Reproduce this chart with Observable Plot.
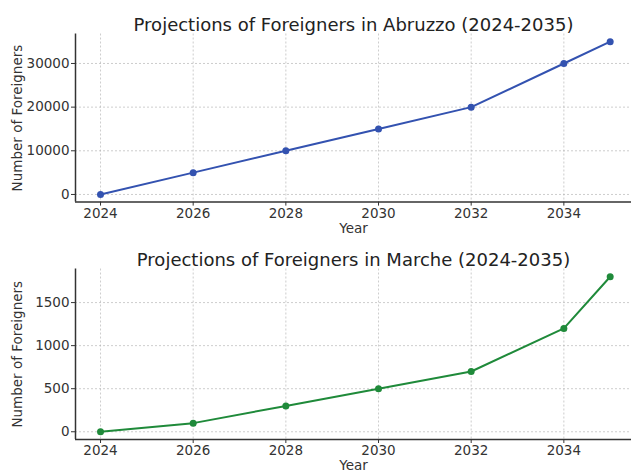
<!DOCTYPE html>
<html>
<head>
<meta charset="utf-8">
<script src="https://cdn.jsdelivr.net/npm/d3@7"></script>
<script src="https://cdn.jsdelivr.net/npm/@observablehq/plot@0.6"></script>
<style>
  html, body { margin: 0; padding: 0; background: #fff; }
  #wrap { width: 631px; height: 471px; overflow: hidden; }
  svg { display: block; font-family: "DejaVu Sans", sans-serif; }
</style>
</head>
<body>
<div id="wrap"></div>
<script>
const years = [2024, 2026, 2028, 2030, 2032, 2034, 2035];
const abruzzo = [0, 5000, 10000, 15000, 20000, 30000, 35000];
const marche = [0, 100, 300, 500, 700, 1200, 1800];
const xTicks = [2024, 2026, 2028, 2030, 2032, 2034];
const yTicksTop = [0, 10000, 20000, 30000];
const yTicksBottom = [0, 500, 1000, 1500];
const titles = ["Projections of Foreigners in Abruzzo (2024-2035)", "Projections of Foreigners in Marche (2024-2035)"];

const xDomain = [2023.46, 2035.46];

function panel(values, yDomain, yTicks, color, title, height, mTop, mBottom, yearDy) {
  const data = years.map((y, i) => ({year: y, value: values[i]}));
  return Plot.plot({
    width: 631,
    height,
    marginLeft: 75,
    marginRight: 0,
    marginTop: mTop,
    marginBottom: mBottom,
    style: {fontFamily: "DejaVu Sans, sans-serif", fontSize: "13.5px", color: "#333", background: "white"},
    x: {domain: xDomain, label: null},
    y: {domain: yDomain, label: null},
    marks: [
      Plot.gridX(xTicks, {stroke: "#b0b0b0", strokeOpacity: 0.8, strokeDasharray: "2,2", strokeWidth: 0.8}),
      Plot.gridY(yTicks, {stroke: "#b0b0b0", strokeOpacity: 0.8, strokeDasharray: "2,2", strokeWidth: 0.8}),
      Plot.ruleY([yDomain[0]], {stroke: "#333", strokeWidth: 1.5}),
      Plot.ruleX([xDomain[0]], {stroke: "#333", strokeWidth: 1.5}),
      Plot.axisX(xTicks, {tickSize: 4, tickPadding: 2, tickFormat: d => String(d), label: null, fontSize: 13.5, fill: "#333"}),
      Plot.axisY(yTicks, {tickSize: 4, tickPadding: 2, tickFormat: d => String(d), label: null, fontSize: 13.5, fill: "#333"}),
      Plot.line(data, {x: "year", y: "value", stroke: color, strokeWidth: 2}),
      Plot.dot(data, {x: "year", y: "value", fill: color, r: 3.5}),
      Plot.text([title], {frameAnchor: "top", dy: -16, fontSize: 18, fill: "#222"}),
      Plot.text(["Year"], {frameAnchor: "bottom", dy: yearDy, fontSize: 13.5, fill: "#333"}),
      Plot.text(["Number of Foreigners"], {frameAnchor: "left", dx: -58, rotate: -90, textAnchor: "middle", fontSize: 13.5, fill: "#333"})
    ]
  });
}

const wrap = document.getElementById("wrap");
wrap.appendChild(panel(abruzzo, [-1750, 36750], yTicksTop, "#3352b0", titles[0], 235, 33.5, 33.4, 31));
wrap.appendChild(panel(marche, [-90, 1890], yTicksBottom, "#1f8a3a", titles[1], 236, 33.5, 32, 30));
</script>
</body>
</html>
